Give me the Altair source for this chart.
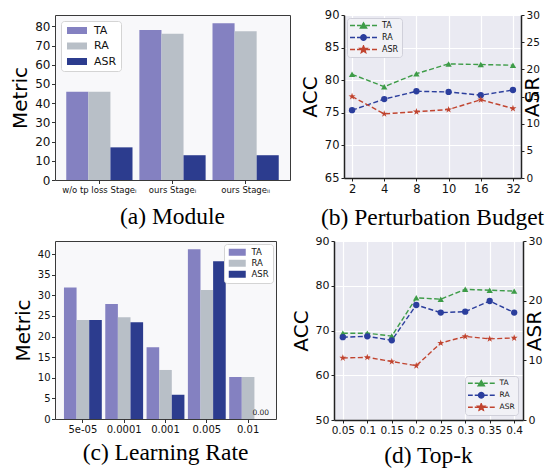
import math
import altair as alt
import pandas as pd

SERIES = ["TA", "RA", "ASR"]
BAR_COLORS = ["#8481c1", "#b8bfc7", "#2c3c8e"]
LINE_COLORS = ["#3e9c48", "#2b3e9d", "#c1442f"]

# (a) Module
MOD_CATS = ["w/o tp loss Stage\u1d62", "ours Stage\u1d62", "ours Stage\u1d62\u1d62"]
MOD_TA = [45.9, 78.1, 81.6]
MOD_RA = [45.9, 76.2, 77.5]
MOD_ASR = [17.0, 12.9, 12.9]

# (b) Perturbation Budget
BUDGET = ["2", "4", "8", "10", "16", "32"]
BUD_TA = [80.9, 79.0, 81.0, 82.5, 82.4, 82.3]
BUD_RA = [75.4, 77.1, 78.3, 78.2, 77.7, 78.5]
BUD_ASR = [15.0, 11.8, 12.2, 12.6, 14.4, 12.8]

# (c) Learning Rate
LR = ["5e-05", "0.0001", "0.001", "0.005", "0.01"]
LR_TA = [31.9, 27.9, 17.4, 41.2, 10.2]
LR_RA = [24.0, 24.7, 11.9, 31.3, 10.2]
LR_ASR = [24.0, 23.5, 5.9, 38.3, 0.0]

# (d) Top-k
TOPK = ["0.05", "0.1", "0.15", "0.2", "0.25", "0.3", "0.35", "0.4"]
TOPK_TA = [69.4, 69.4, 68.75, 77.3, 77.0, 79.2, 79.0, 78.8]
TOPK_RA = [68.5, 68.7, 67.8, 75.7, 74.0, 74.2, 76.6, 74.0]
TOPK_ASR = [10.4, 10.5, 9.8, 9.1, 12.9, 14.0, 13.6, 13.75]

TXT = "#111111"
INDEP = dict(color="independent", xOffset="independent", shape="independent",
             fill="independent", stroke="independent")


def long_df(cats, ta, ra, asr):
    rows = []
    for s, vals in zip(SERIES, [ta, ra, asr]):
        for c, v in zip(cats, vals):
            rows.append({"cat": c, "series": s, "value": v})
    return pd.DataFrame(rows)


def caption(text, offset):
    return alt.TitleParams(text, orient="bottom", font="Liberation Serif", fontSize=23.5,
                           fontWeight="normal", color="#000000", offset=offset, anchor="middle")


# ---------- bar panels ----------
def bar_panel(cats, ta, ra, asr, ymax, yvals, w, h, pin, pout, xfont, yfont, legfont,
              leg_orient, leg_offset, leg_row, sym_w, cap, cap_off, zero_label=False):
    df = long_df(cats, ta, ra, asr)
    S = 49.0
    u = math.sqrt(S) / 2.0
    x1 = (0 - u) / u
    x2 = (sym_w - u) / u
    rect = f"M{x1:.3f},-1H{x2:.3f}V1H{x1:.3f}Z"
    legend = alt.Legend(title=None, orient=leg_orient, offset=leg_offset, symbolType=rect,
                        symbolSize=S, symbolStrokeWidth=0, labelFontSize=legfont,
                        labelOffset=sym_w - math.sqrt(S) + 5, padding=4, rowPadding=leg_row,
                        fillColor="#ffffff", strokeColor="#d4d4d4", cornerRadius=3,
                        labelColor=TXT, labelFont="DejaVu Sans")
    x = alt.X("cat:N", sort=cats,
              scale=alt.Scale(paddingInner=pin, paddingOuter=pout),
              axis=alt.Axis(title=None, labelAngle=0, labelFontSize=xfont, domain=False,
                            tickSize=3.5, tickColor="#333333", labelPadding=2, labelColor=TXT))
    xo = alt.XOffset("series:N", sort=SERIES, scale=alt.Scale(domain=SERIES, paddingInner=0, paddingOuter=0))
    y = alt.Y("value:Q", scale=alt.Scale(domain=[0, ymax], nice=False),
              axis=alt.Axis(title="Metric", values=yvals, grid=False, domain=False, tickSize=3.5,
                            tickColor="#333333", labelFontSize=yfont, labelPadding=1.5,
                            labelOverlap=False,
                            titleFontSize=20, titleFontWeight="normal", titlePadding=4,
                            labelColor=TXT, titleColor="#000000"))
    bars = alt.Chart(df).mark_bar().encode(
        x=x, xOffset=xo, y=y,
        color=alt.Color("series:N", sort=SERIES, scale=alt.Scale(domain=SERIES, range=BAR_COLORS), legend=legend),
    )
    layers = [bars]
    if zero_label:
        zdf = df[df["value"] == 0]
        txt = alt.Chart(zdf).mark_text(baseline="bottom", dy=-2, fontSize=7.5, color="#222222",
                                       font="DejaVu Sans").encode(
            x=x, xOffset=xo, y=y, text=alt.Text("value:Q", format=".2f"))
        layers.append(txt)
    return alt.layer(*layers).properties(
        width=w, height=h, title=caption(cap, cap_off),
        view=alt.ViewBackground(fill="#f8f8fa", stroke="#3a3a3a", strokeWidth=1))


# ---------- dual-axis line panels ----------
def star_pts(cx, ro, ri):
    pts = []
    for k in range(10):
        a = math.radians(-90 + 36 * k)
        r = ro if k % 2 == 0 else ri
        pts.append((cx + r * math.cos(a), r * math.sin(a)))
    return "M" + "L".join(f"{px:.3f},{py:.3f}" for px, py in pts) + "Z"


def tri_pts(cx, r):
    hh = math.sqrt(3) / 2 * r
    return f"M{cx:.3f},{-hh:.3f}L{cx - r:.3f},{hh * 0.9:.3f}L{cx + r:.3f},{hh * 0.9:.3f}Z"


def circ_pts(cx, r, n=20):
    pts = [(cx + r * math.cos(2 * math.pi * k / n), r * math.sin(2 * math.pi * k / n)) for k in range(n)]
    return "M" + "L".join(f"{px:.3f},{py:.3f}" for px, py in pts) + "Z"


STAR = star_pts(0, 1.15, 0.45)
POINT_SHAPES = ["triangle-up", "circle", STAR]

LS = 25.0                  # legend symbol size
LU = math.sqrt(LS) / 2.0   # px per path unit
LC = 4.0                   # px from entry start to symbol centre


def lp(px):
    return (px - LC) / LU


def legend_path(marker):
    dashes = [(0, 5), (7, 11), (16, 20), (22, 27)]
    d = "".join(f"M{lp(a):.3f},0H{lp(b):.3f}" for a, b in dashes)
    return d + marker


LEG_SHAPES = [
    legend_path(tri_pts(lp(13.5), 3.2 / LU)),
    legend_path(circ_pts(lp(13.5), 2.8 / LU)),
    legend_path(star_pts(lp(13.5), 3.8 / LU, 1.6 / LU)),
]


def dual_panel(cats, ta, ra, asr, ldom, lvals, rvals, pad, w, h, lab_l, lab_r, xfont, legfont,
               leg_orient, leg_offset, leg_row, clip_h, cap, cap_off):
    df = long_df(cats, ta, ra, asr)
    legend = alt.Legend(
        title=None, orient=leg_orient, offset=leg_offset, symbolSize=LS, labelFontSize=legfont,
        labelOffset=24, padding=3, rowPadding=leg_row, clipHeight=clip_h,
        fillColor="#f1f1f6", strokeColor="#d0d0da", cornerRadius=3, labelColor=TXT,
        labelFont="DejaVu Sans", symbolStrokeWidth=1.3, symbolOpacity=1)
    color = alt.Color("series:N", sort=SERIES, scale=alt.Scale(domain=SERIES, range=LINE_COLORS), legend=None)
    shape = alt.Shape("series:N", sort=SERIES, scale=alt.Scale(domain=SERIES, range=POINT_SHAPES), legend=None)
    x = alt.X("cat:N", sort=cats, scale=alt.Scale(type="point", padding=pad),
              axis=alt.Axis(title=None, labelAngle=0, labelFontSize=xfont, grid=True, gridColor="#ffffff",
                            gridWidth=1.2, domainColor="#222222", domainWidth=1.5, tickColor="#222222",
                            tickSize=3, labelPadding=2, labelColor=TXT))
    yl = alt.Y("value:Q", scale=alt.Scale(domain=ldom, nice=False, zero=False),
               axis=alt.Axis(title="ACC", orient="left", values=lvals, grid=True, gridColor="#ffffff",
                             gridWidth=1.2, domainColor="#222222", domainWidth=1.5, tickColor="#222222",
                             tickSize=3, labelFontSize=lab_l, labelPadding=2, titleFontSize=20,
                             titleFontWeight="normal", titlePadding=4, labelColor=TXT, titleColor="#000000"))
    yr = alt.Y("value:Q", scale=alt.Scale(domain=[0, 30], nice=False),
               axis=alt.Axis(title="ASR", orient="right", values=rvals, grid=False,
                             domainColor="#222222", domainWidth=1.5, tickColor="#222222",
                             tickSize=3, labelFontSize=lab_r, labelPadding=2, titleFontSize=20,
                             titleFontWeight="normal", titlePadding=3, titleAngle=270,
                             labelColor=TXT, titleColor="#000000"))
    base = alt.Chart(df)
    L = base.transform_filter("datum.series != 'ASR'")
    R = base.transform_filter("datum.series == 'ASR'")

    def pair(src, y):
        ln = src.mark_line(strokeDash=[5, 2.5], strokeWidth=1.4).encode(x=x, y=y, color=color)
        pt = src.mark_point(filled=True, opacity=1, size=40, strokeWidth=0.8).encode(
            x=x, y=y, color=color, shape=shape)
        return alt.layer(ln, pt)

    # legend-only layer: no rows survive the filter, the legend comes from the scales' domains
    leg_layer = base.transform_filter("false").mark_point(
        filled=True, opacity=1, size=LS, strokeWidth=1.3).encode(
        fill=alt.Fill("series:N", sort=SERIES, scale=alt.Scale(domain=SERIES, range=LINE_COLORS), legend=legend),
        stroke=alt.Stroke("series:N", sort=SERIES, scale=alt.Scale(domain=SERIES, range=LINE_COLORS), legend=legend),
        shape=alt.Shape("series:N", sort=SERIES, scale=alt.Scale(domain=SERIES, range=LEG_SHAPES), legend=legend),
    )

    return alt.layer(pair(L, yl), pair(R, yr), leg_layer).resolve_scale(
        y="independent", shape="independent", fill="independent", stroke="independent").properties(
        width=w, height=h, title=caption(cap, cap_off),
        view=alt.ViewBackground(fill="#eaeaf2", stroke="transparent"))


a = bar_panel(MOD_CATS, MOD_TA, MOD_RA, MOD_ASR, 85.9, list(range(0, 81, 10)), 235, 165,
              0.094, 0.154, 8.5, 12, 11, "top-left", 6, 3.5, 20, "(a) Module", 11)
b = dual_panel(BUDGET, BUD_TA, BUD_RA, BUD_ASR, [65, 90], [65, 70, 75, 80, 85, 90],
               [0, 5, 10, 15, 20, 25, 30], 0.25, 177, 163, 11.5, 10.5, 11.5, 8,
               "top-left", 3, 3, 9, "(b) Perturbation Budget", 11)
c = bar_panel(LR, LR_TA, LR_RA, LR_ASR, 43.2, list(range(0, 41, 5)), 221, 178,
              0.084, 0.217, 10, 10, 8.5, "top-right", 3, 2, 17, "(c) Learning Rate", 6,
              zero_label=True)
d = dual_panel(TOPK, TOPK_TA, TOPK_RA, TOPK_ASR, [50, 90], [50, 60, 70, 80, 90],
               [0, 10, 20, 30], 0.36, 189, 179, 11, 11, 10.5, 7.5,
               "bottom-right", 5, 3, 8.5, "(d) Top-k", 8)

row1 = alt.hconcat(a, b, spacing=54, bounds="flush").resolve_scale(**INDEP)
row2 = alt.hconcat(c, d, spacing=58, bounds="flush").resolve_scale(**INDEP)

chart = alt.vconcat(row1, row2, spacing=4).resolve_scale(**INDEP).properties(
    padding={"left": 2, "top": 0, "right": 0, "bottom": 0}
).configure_axis(
    labelFont="DejaVu Sans", titleFont="DejaVu Sans"
).configure_legend(
    labelFont="DejaVu Sans"
)

chart.save("out.html", embed_options={"renderer": "svg", "actions": False})
